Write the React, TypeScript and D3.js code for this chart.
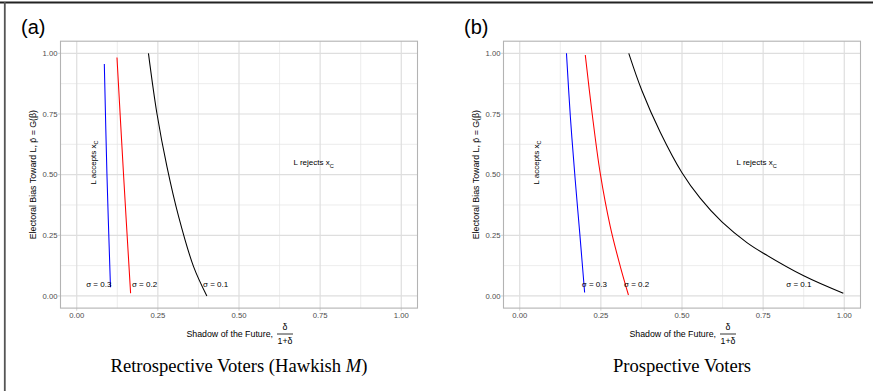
import React from 'react';
import * as d3 from 'd3';

type Pt = { x: number; y: number };

// values (x = delta/(1+delta), y = p-bar)
const retroSigma03: Pt[] = [
  { x: 0.085, y: 0.956 }, { x: 0.093, y: 0.506 }, { x: 0.104, y: 0.036 },
];
const retroSigma02: Pt[] = [
  { x: 0.124, y: 0.983 }, { x: 0.144, y: 0.506 }, { x: 0.166, y: 0.011 },
];
const retroSigma01: Pt[] = [
  { x: 0.221, y: 1.0 }, { x: 0.247, y: 0.753 }, { x: 0.278, y: 0.533 },
  { x: 0.314, y: 0.327 }, { x: 0.36, y: 0.121 }, { x: 0.401, y: 0.0 },
];
const prospSigma03: Pt[] = [
  { x: 0.144, y: 1.0 }, { x: 0.156, y: 0.739 }, { x: 0.171, y: 0.478 },
  { x: 0.185, y: 0.258 }, { x: 0.2, y: 0.014 },
];
const prospSigma02: Pt[] = [
  { x: 0.202, y: 0.993 }, { x: 0.223, y: 0.753 }, { x: 0.248, y: 0.506 },
  { x: 0.279, y: 0.286 }, { x: 0.31, y: 0.121 }, { x: 0.335, y: 0.004 },
];
const prospSigma01: Pt[] = [
  { x: 0.336, y: 1.0 }, { x: 0.376, y: 0.848 }, { x: 0.433, y: 0.675 },
  { x: 0.5, y: 0.508 }, { x: 0.556, y: 0.403 }, { x: 0.623, y: 0.305 },
  { x: 0.7, y: 0.22 }, { x: 0.751, y: 0.176 }, { x: 0.875, y: 0.083 },
  { x: 0.997, y: 0.011 },
];

const sigmaLabels = ['σ = 0.3', 'σ = 0.2', 'σ = 0.1'];
const retroSigmaLabelX = [0.068, 0.209, 0.428];
const prospSigmaLabelX = [0.23, 0.36, 0.86];
const sigmaLabelY = 0.05;
const acceptPos = { x: 0.05, y: 0.55 };
const rejectPos = { x: 0.73, y: 0.55 };

const majorTicks = [0, 0.25, 0.5, 0.75, 1];
const minorTicks = [0.125, 0.375, 0.625, 0.875];
const tickFmt = d3.format('.2f');

const seriesColors = ['#0000FF', '#FF0000', '#000000'];
const SANS = '"Liberation Sans", Arial, Helvetica, sans-serif';
const SERIF = '"Liberation Serif", "Times New Roman", serif';

interface PanelProps {
  left: number;
  tag: string;
  series: Pt[][];
  labelX: number[];
  title: React.ReactNode;
}

const Panel: React.FC<PanelProps> = ({ left, tag, series, labelX, title }) => {
  const top = 41.2;
  const bottom = 308.1;
  const width = 357;
  const x = d3.scaleLinear().domain([-0.05, 1.05]).range([left, left + width]);
  const y = d3.scaleLinear().domain([-0.05, 1.05]).range([bottom, top]);
  const line = d3.line<Pt>().x(d => x(d.x)).y(d => y(d.y)).curve(d3.curveCatmullRom.alpha(0.5));
  const cx = left + width / 2;
  const cy = (top + bottom) / 2;

  return (
    <g>
      <text x={left - 39.5} y={34.3} fontFamily={SANS} fontSize={20}>{tag}</text>

      {/* grid */}
      {minorTicks.map(t => (
        <g key={'mn' + t}>
          <line x1={x(t)} x2={x(t)} y1={top} y2={bottom} stroke="#E4E4E4" strokeWidth={0.7} />
          <line x1={left} x2={left + width} y1={y(t)} y2={y(t)} stroke="#E4E4E4" strokeWidth={0.7} />
        </g>
      ))}
      {majorTicks.map(t => (
        <g key={'mj' + t}>
          <line x1={x(t)} x2={x(t)} y1={top} y2={bottom} stroke="#DEDEDE" strokeWidth={1.2} />
          <line x1={left} x2={left + width} y1={y(t)} y2={y(t)} stroke="#DEDEDE" strokeWidth={1.2} />
        </g>
      ))}

      {/* curves */}
      {series.map((s, i) => (
        <path key={i} d={line(s) || ''} fill="none" stroke={seriesColors[i]} strokeWidth={1.05} />
      ))}

      {/* annotations */}
      {sigmaLabels.map((lab, i) => (
        <text key={lab} x={x(labelX[i])} y={y(sigmaLabelY)} dy="0.35em" textAnchor="middle"
          fontFamily={SANS} fontSize={8}>{lab}</text>
      ))}
      <text transform={`translate(${x(acceptPos.x)},${y(acceptPos.y)}) rotate(-90)`} dy="0.35em"
        textAnchor="middle" fontFamily={SANS} fontSize={8}>
        L accepts x<tspan fontSize={5.6} dy={2.2}>C</tspan>
      </text>
      <text x={x(rejectPos.x)} y={y(rejectPos.y)} dy="0.35em" textAnchor="middle"
        fontFamily={SANS} fontSize={8}>
        L rejects x<tspan fontSize={5.6} dy={2.2}>C</tspan>
      </text>

      {/* panel border */}
      <rect x={left} y={top} width={width} height={bottom - top} fill="none" stroke="#B3B3B3" strokeWidth={1.1} />

      {/* axes */}
      {majorTicks.map(t => (
        <g key={'ax' + t}>
          <line x1={left - 2.6} x2={left} y1={y(t)} y2={y(t)} stroke="#B3B3B3" strokeWidth={0.6} />
          <text x={left - 3} y={y(t)} dy="0.35em" textAnchor="end" fontFamily={SANS} fontSize={7.7}
            fill="#4D4D4D">{tickFmt(t)}</text>
          <line x1={x(t)} x2={x(t)} y1={bottom} y2={bottom + 2.6} stroke="#B3B3B3" strokeWidth={0.6} />
          <text x={x(t)} y={bottom + 10.3} textAnchor="middle" fontFamily={SANS} fontSize={7.7}
            fill="#4D4D4D">{tickFmt(t)}</text>
        </g>
      ))}

      {/* x title with fraction */}
      <text x={cx + 34} y={336.5} textAnchor="end" fontFamily={SANS} fontSize={8.8}>Shadow of the Future,</text>
      <text x={cx + 46} y={329.5} textAnchor="middle" fontFamily={SANS} fontSize={8.8}>δ</text>
      <line x1={cx + 38} x2={cx + 54} y1={334} y2={334} stroke="#000" strokeWidth={0.8} />
      <text x={cx + 46} y={344} textAnchor="middle" fontFamily={SANS} fontSize={8.8}>1+δ</text>

      {/* y title */}
      <text transform={`translate(${left - 28},${cy}) rotate(-90)`} dy="0.35em" textAnchor="middle"
        fontFamily={SANS} fontSize={8.8}>Electoral Bias Toward L, p&#772; = G(β)</text>

      {/* panel caption */}
      <text x={cx} y={371.7} textAnchor="middle" fontFamily={SERIF} fontSize={18.6}>{title}</text>
    </g>
  );
};

export default function App() {
  return (
    <div style={{ position: 'absolute', left: 0, top: 0 }}>
      <svg width={873} height={391} style={{ display: 'block', background: '#fff' }}>
        <rect x={0} y={0} width={873} height={391} fill="#fff" />
        <line x1={0} x2={873} y1={2.5} y2={2.5} stroke="#222" strokeWidth={1.8} />
        <line x1={4.8} x2={4.8} y1={2} y2={391} stroke="#555" strokeWidth={1.8} />
        <Panel left={60.5} tag="(a)" series={[retroSigma03, retroSigma02, retroSigma01]}
          labelX={retroSigmaLabelX}
          title={<>Retrospective Voters (Hawkish <tspan fontStyle="italic">M</tspan>)</>} />
        <Panel left={503.5} tag="(b)" series={[prospSigma03, prospSigma02, prospSigma01]}
          labelX={prospSigmaLabelX} title="Prospective Voters" />
      </svg>
    </div>
  );
}
